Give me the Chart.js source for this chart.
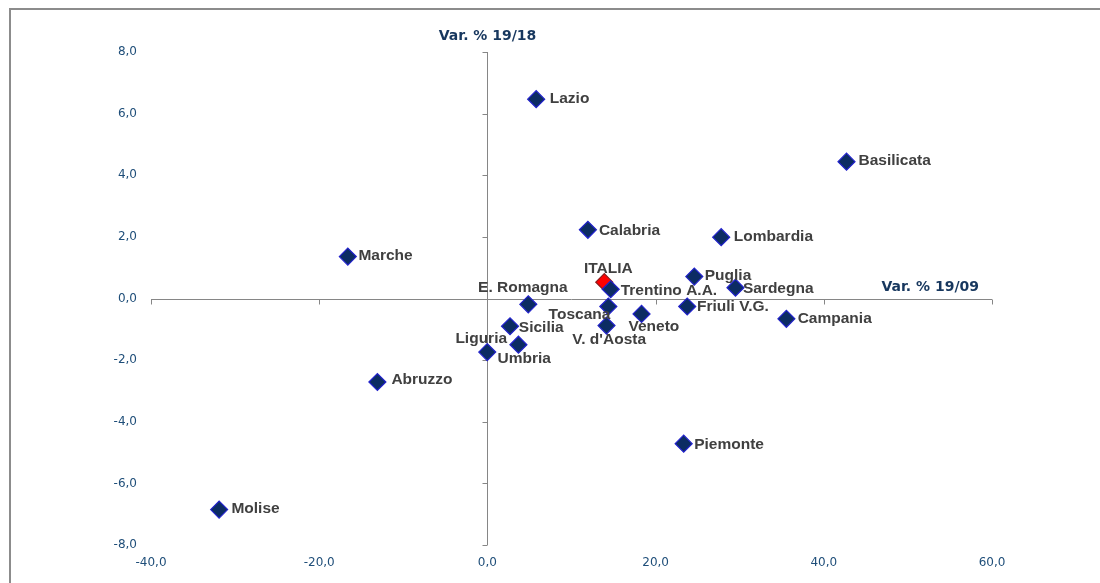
<!DOCTYPE html>
<html><head><meta charset="utf-8">
<script src="https://cdn.jsdelivr.net/npm/chart.js@4.4.1/dist/chart.umd.min.js"></script>
<style>html,body{margin:0;padding:0;background:#fff}canvas{display:block}</style>
</head><body>
<canvas id="c" width="1100" height="583"></canvas>
<script>
// ---- data ----
const regions = ['Lazio','Basilicata','Calabria','Lombardia','Marche','Trentino A.A.','Puglia','Sardegna','E. Romagna','Toscana','Veneto','Friuli V.G.','Campania','Sicilia',"V. d'Aosta",'Umbria','Liguria','Abruzzo','Piemonte','Molise'];
const var1909 = [5.8, 42.7, 11.95, 27.8, -16.6, 14.66, 24.6, 29.5, 4.86, 14.38, 18.33, 23.76, 35.55, 2.69, 14.16, 3.69, -0.02, -13.08, 23.34, -31.9];
const var1918 = [6.47, 4.44, 2.23, 1.99, 1.36, 0.30, 0.71, 0.35, -0.19, -0.26, -0.50, -0.26, -0.66, -0.90, -0.88, -1.50, -1.74, -2.71, -4.71, -6.85];
const italiaName = ['ITALIA'];
const italia1909 = [13.9];
const italia1918 = [0.53];
const xTicks = [-40, -20, 0, 20, 40, 60];
const yTicks = [-8, -6, -4, -2, 0, 2, 4, 6, 8];
const xTitle = 'Var. % 19/09';
const yTitle = 'Var. % 19/18';

// ---- label placement (offsets from marker, px) ----
const labelPlace = [
  [13.6, 0, 'left'], [12, -1, 'left'], [11, 1, 'left'], [12.6, -0.5, 'left'], [10.6, -1, 'left'],
  [10, 1.3, 'left'], [10.5, -1, 'left'], [7.4, 0.7, 'left'], [-5.4, -16.7, 'center'], [2, 8, 'right'],
  [12.3, 12.7, 'center'], [9.8, 0.7, 'left'], [11.3, 0, 'left'], [8.8, 1, 'left'], [2.7, 14.3, 'center'],
  [5.7, 14, 'center'], [-6, -13.4, 'center'], [14, -2.4, 'left'], [10.5, 0.7, 'left'], [12.3, -1, 'left']
];
const italiaPlace = [[4, -13, 'center']];

const fmt = v => Number(v).toFixed(1).replace('.', ',');

const decor = {
  id: 'decor',
  beforeDraw(chart) {
    const ctx = chart.ctx;
    ctx.save();
    ctx.fillStyle = '#fff';
    ctx.fillRect(0, 0, chart.width, chart.height);
    ctx.strokeStyle = '#8c8c8c';
    ctx.lineWidth = 2;
    ctx.beginPath();
    ctx.moveTo(10, chart.height);
    ctx.lineTo(10, 9);
    ctx.lineTo(chart.width, 9);
    ctx.stroke();
    ctx.restore();
  },
  beforeDatasetsDraw(chart) {
    const {ctx, chartArea: a, scales: {x, y}} = chart;
    const x0 = Math.round(x.getPixelForValue(0)) + 0.5;
    const y0 = Math.round(y.getPixelForValue(0)) + 0.5;
    ctx.save();
    ctx.strokeStyle = '#868686';
    ctx.lineWidth = 1;
    ctx.beginPath();
    ctx.moveTo(a.left, y0); ctx.lineTo(a.right, y0);
    ctx.moveTo(x0, a.top); ctx.lineTo(x0, a.bottom);
    x.ticks.forEach(t => {
      const px = Math.round(x.getPixelForValue(t.value)) + 0.5;
      ctx.moveTo(px, y0); ctx.lineTo(px, y0 + 5);
    });
    y.ticks.forEach(t => {
      const py = Math.round(y.getPixelForValue(t.value)) + 0.5;
      ctx.moveTo(x0 - 5, py); ctx.lineTo(x0, py);
    });
    ctx.stroke();
    ctx.fillStyle = '#17375E';
    ctx.font = 'bold 14px "DejaVu Sans"';
    ctx.textBaseline = 'middle';
    ctx.textAlign = 'center';
    ctx.fillText(yTitle, x0, a.top - 16);
    ctx.textAlign = 'right';
    ctx.fillText(xTitle, a.right - 13, y0 - 12);
    ctx.restore();
  },
  afterDatasetsDraw(chart) {
    const ctx = chart.ctx;
    ctx.save();
    ctx.font = 'bold 15.5px "Liberation Sans"';
    ctx.fillStyle = '#404040';
    ctx.textBaseline = 'middle';
    const draw = (dsIndex, names, place) => {
      const meta = chart.getDatasetMeta(dsIndex);
      meta.data.forEach((el, i) => {
        const p = place[i];
        ctx.textAlign = p[2];
        ctx.fillText(names[i], el.x + p[0], el.y + p[1]);
      });
    };
    draw(1, italiaName, italiaPlace);
    draw(0, regions, labelPlace);
    ctx.restore();
  }
};

new Chart(document.getElementById('c'), {
  type: 'scatter',
  data: {
    datasets: [
      {
        label: 'Regioni',
        data: regions.map((r, i) => ({x: var1909[i], y: var1918[i]})),
        pointStyle: 'rectRot',
        pointRadius: 8.5,
        pointBackgroundColor: '#0C2C63',
        pointBorderColor: '#2222CC',
        pointBorderWidth: 1.2,
        order: 1
      },
      {
        label: 'ITALIA',
        data: italiaName.map((r, i) => ({x: italia1909[i], y: italia1918[i]})),
        pointStyle: 'rectRot',
        pointRadius: 8.5,
        pointBackgroundColor: '#FF0000',
        pointBorderColor: '#8B1A1A',
        pointBorderWidth: 1.2,
        order: 2
      }
    ]
  },
  options: {
    responsive: false,
    animation: false,
    devicePixelRatio: 1,
    layout: {padding: {left: 101, right: 108, top: 52, bottom: 8}},
    plugins: {legend: {display: false}, tooltip: {enabled: false}},
    scales: {
      x: {
        type: 'linear', min: -40, max: 60,
        afterBuildTicks: s => { s.ticks = xTicks.map(v => ({value: v})); },
        afterFit: s => { s.height = 30; },
        grid: {display: false, drawTicks: false},
        border: {display: false},
        ticks: {callback: v => fmt(v), padding: 11, color: '#1F4E79', font: {family: '"DejaVu Sans"', size: 12}, autoSkip: false, maxRotation: 0}
      },
      y: {
        type: 'linear', min: -8, max: 8,
        afterBuildTicks: s => { s.ticks = yTicks.map(v => ({value: v})); },
        afterFit: s => { s.width = 50; },
        grid: {display: false, drawTicks: false},
        border: {display: false},
        ticks: {callback: v => fmt(v), padding: 14, color: '#1F4E79', font: {family: '"DejaVu Sans"', size: 12}, autoSkip: false}
      }
    }
  },
  plugins: [decor]
});
</script>
</body></html>
